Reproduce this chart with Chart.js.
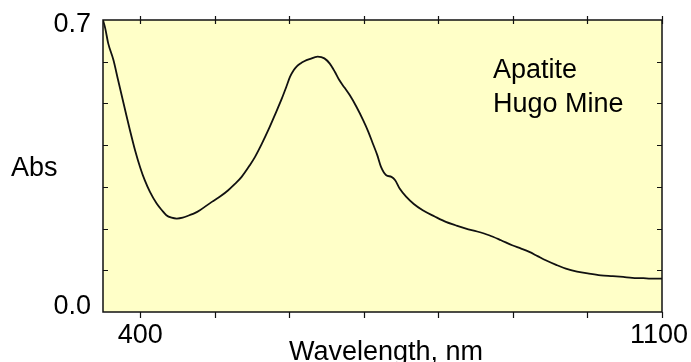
<!DOCTYPE html>
<html>
<head>
<meta charset="utf-8">
<script src="https://cdn.jsdelivr.net/npm/chart.js@4/dist/chart.umd.min.js"></script>
<style>
  html, body { margin: 0; padding: 0; background: #ffffff; }
  #wrap { width: 691px; height: 362px; }
</style>
</head>
<body>
<div id="wrap"><canvas id="c" width="691" height="362"></canvas></div>
<script>
// ---- data ----
const wavelengths = [350,353,357,364,370,380,386,393,400,406,413,422,429,435,442,449,457,466,473,480,
  496,508,518,527,536,547,554,563,572,581,590,596,601,606,610,615,620,627,638,647,654,661,667,674,681,690,699,706,
  712,718,723,730,737,742,748,757,767,779,795,810,823,837,852,868,884,899,911,922,933,944,958,971,986,
  1002,1018,1034,1048,1060,1075,1085,1096,1100];
const absorbance = [0.700,0.680,0.644,0.604,0.558,0.482,0.437,0.388,0.346,0.316,0.288,0.260,0.244,0.232,0.226,0.224,0.226,0.232,0.237,0.244,
  0.264,0.278,0.292,0.307,0.324,0.352,0.372,0.403,0.437,0.474,0.512,0.540,0.564,0.580,0.589,0.596,0.601,0.606,0.612,0.608,0.596,0.576,0.556,0.538,0.520,0.492,0.460,0.432,
  0.404,0.376,0.348,0.328,0.324,0.316,0.296,0.276,0.259,0.244,0.229,0.216,0.208,0.200,0.193,0.184,0.172,0.160,0.152,0.144,0.134,0.124,0.113,0.104,0.097,
  0.092,0.088,0.086,0.084,0.082,0.081,0.080,0.080,0.080];
const xTickValues = [400,500,600,700,800,900,1000,1100];
const yTickValues = [0.1,0.2,0.3,0.4,0.5,0.6];
const xLabelValues = [400,1100];
const xLabelTexts = ['400','1100'];
const yLabelValues = [0.0,0.7];
const yLabelTexts = ['0.0','0.7'];
const xTitle = 'Wavelength, nm';
const yTitle = 'Abs';
const noteLines = ['Apatite','Hugo Mine'];
const xMin = 350, xMax = 1100, yMin = 0, yMax = 0.7;

const FONT = '27px "Liberation Sans", Arial, Helvetica, sans-serif';
const PLOT_BG = '#FFFFC8';
const INK = '#111111';

const decor = {
  id: 'decor',
  beforeDraw(chart) {
    const ctx = chart.ctx, a = chart.chartArea;
    ctx.save();
    ctx.fillStyle = '#ffffff';
    ctx.fillRect(0, 0, chart.width, chart.height);
    ctx.fillStyle = PLOT_BG;
    ctx.fillRect(a.left, a.top, a.right - a.left, a.bottom - a.top);
    ctx.restore();
  },
  afterDraw(chart) {
    const ctx = chart.ctx, a = chart.chartArea;
    const xs = chart.scales.x, ys = chart.scales.y;
    ctx.save();
    ctx.strokeStyle = INK;
    ctx.lineWidth = 1.5;
    ctx.strokeRect(a.left, a.top, a.right - a.left, a.bottom - a.top);
    ctx.lineWidth = 1.2;
    ctx.beginPath();
    xTickValues.forEach(v => {
      const px = Math.round(xs.getPixelForValue(v)) + 0.5;
      ctx.moveTo(px, a.top - 4); ctx.lineTo(px, a.top + 4);
      ctx.moveTo(px, a.bottom); ctx.lineTo(px, a.bottom + 6);
    });
    yTickValues.forEach(v => {
      const py = Math.round(ys.getPixelForValue(v)) + 0.5;
      ctx.moveTo(a.left, py); ctx.lineTo(a.left + 5, py);
      ctx.moveTo(a.right, py); ctx.lineTo(a.right - 5, py);
    });
    ctx.stroke();

    ctx.fillStyle = '#000000';
    ctx.font = FONT;
    ctx.textBaseline = 'alphabetic';
    // x tick labels
    ctx.textAlign = 'center';
    xLabelValues.forEach((v, i) => {
      const w = ctx.measureText(xLabelTexts[i]).width;
      let px = xs.getPixelForValue(v);
      px = Math.min(px, chart.width - w / 2 - 3);
      ctx.fillText(xLabelTexts[i], px, a.bottom + 31);
    });
    // y tick labels
    ctx.textAlign = 'right';
    yLabelValues.forEach((v, i) => {
      const py = ys.getPixelForValue(v);
      const off = (v === yMax) ? 12 : 1.5;
      ctx.fillText(yLabelTexts[i], a.left - 12, py + off);
    });
    // axis titles
    ctx.textAlign = 'left';
    ctx.fillText(yTitle, 11, 176);
    ctx.textAlign = 'center';
    ctx.fillText(xTitle, 386, 360);
    // annotation
    ctx.textAlign = 'left';
    noteLines.forEach((t, i) => ctx.fillText(t, 493, 78 + i * 33.5));
    ctx.restore();
  }
};

new Chart(document.getElementById('c'), {
  type: 'line',
  data: {
    datasets: [{
      data: wavelengths.map((w, i) => ({ x: w, y: absorbance[i] })),
      borderColor: INK,
      borderWidth: 1.8,
      pointRadius: 0,
      fill: false,
      cubicInterpolationMode: 'monotone'
    }]
  },
  options: {
    responsive: false,
    devicePixelRatio: 1,
    animation: false,
    layout: { padding: { left: 103, top: 20, right: 29, bottom: 50 } },
    plugins: { legend: { display: false }, tooltip: { enabled: false } },
    scales: {
      x: { type: 'linear', min: xMin, max: xMax, display: false },
      y: { type: 'linear', min: yMin, max: yMax, display: false }
    }
  },
  plugins: [decor]
});
</script>
</body>
</html>
